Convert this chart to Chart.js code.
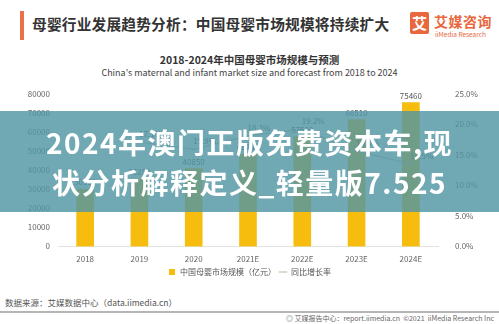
<!DOCTYPE html>
<html>
<head>
<meta charset="utf-8">
<script src="https://cdn.jsdelivr.net/npm/chart.js@4.4.0/dist/chart.umd.min.js"></script>
<style>
  html, body { margin:0; padding:0; background:#fff; }
  body { width:499px; height:324px; position:relative; overflow:hidden;
         font-family:"Noto Sans CJK SC","Noto Sans",sans-serif; }
  .bar-mark { position:absolute; left:20px; top:11px; width:4px; height:29px; background:#e8734a; }
  .head-title { position:absolute; left:32px; top:13px; font-size:14.7px; font-weight:bold; color:#333; letter-spacing:0.2px; }
  .logo-box { position:absolute; left:410px; top:12px; width:19px; height:22px; background:#e8673c; border-radius:2px;
              color:#fff; font-size:15px; font-weight:bold; line-height:22px; text-align:center; }
  .logo-cn { position:absolute; left:434px; top:11px; font-size:14px; font-weight:bold; color:#e8673c; letter-spacing:0.5px; }
  .logo-en { position:absolute; left:435px; top:29px; font-size:6.5px; color:#e8673c; }
  .c-title { position:absolute; left:0; width:499px; top:52px; text-align:center; font-size:10.5px; font-weight:bold; color:#333; }
  .c-sub { position:absolute; left:0; width:499px; top:66px; text-align:center; font-size:9px; color:#444; }
  #wrap { position:absolute; left:0; top:72px; width:499px; height:214px; }
  .source { position:absolute; left:5px; top:296px; font-size:8.5px; color:#555; }
  .rule { position:absolute; left:0; top:311px; width:499px; height:2px; background:#b5b5b5; }
  .foot { position:absolute; right:5px; top:313px; font-size:7px; color:#666; }
  .banner { position:absolute; left:0; top:111px; width:499px; height:101px; background:rgba(80,150,164,0.82);
            color:#fff; font-weight:bold; font-size:28px; line-height:40px; text-align:center; padding-top:11px; box-sizing:border-box;
            letter-spacing:1.5px; }
</style>
</head>
<body>
<div class="bar-mark"></div>
<div class="head-title">母婴行业发展趋势分析：中国母婴市场规模将持续扩大</div>
<div class="logo-box">艾</div>
<div class="logo-cn">艾媒咨询</div>
<div class="logo-en">iiMedia Research</div>
<div class="c-title">2018-2024年中国母婴市场规模与预测</div>
<div class="c-sub">China's maternal and infant market size and forecast from 2018 to 2024</div>
<div id="wrap"><canvas id="chart"></canvas></div>
<div class="source">数据来源：艾媒数据中心（data.iimedia.cn）</div>
<div class="rule"></div>
<div class="foot">◎ 艾媒报告中心：report.iimedia.cn &nbsp;©2021 &nbsp;iiMedia Research Inc</div>
<div class="banner">2024年澳门正版免费资本车,现<br>状分析解释定义_轻量版7.525</div>

<script>
// ── データ ────────────────────────────────────────────
const years = ['2018', '2019', '2020', '2021E', '2022E', '2023E', '2024E'];
const marketSize = [30100, 35250, 40850, 48240, 57520, 66510, 75460];   // 亿元
const growthRate = [null, 17.1, 15.9, 18.1, 19.2, 15.6, 13.5];         // %
const leftTicks = [0, 10000, 20000, 30000, 40000, 50000, 60000, 70000, 80000];
const rightTicks = [0, 5, 10, 15, 20, 25];

const FONT = '"Noto Sans CJK SC","Noto Sans",sans-serif';
const GREY = '#666';

// 数値ラベル（棒の上・折れ線の横）
const valueLabels = {
  id: 'valueLabels',
  afterDatasetsDraw(chart) {
    const ctx = chart.ctx;
    ctx.save();
    ctx.font = '8px ' + FONT;
    ctx.fillStyle = '#555';
    ctx.textAlign = 'center';
    ctx.textBaseline = 'bottom';
    chart.getDatasetMeta(1).data.forEach((bar, i) => {
      ctx.fillText(String(marketSize[i]), bar.x, bar.y - 3);
    });
    chart.getDatasetMeta(0).data.forEach((pt, i) => {
      if (growthRate[i] == null) return;
      ctx.fillText(growthRate[i].toFixed(1) + '%', pt.x + 11, pt.y - 4);
    });
    ctx.restore();
  }
};

// 凡例の高さを詰めて少し上へ
const legendFit = {
  id: 'legendFit',
  beforeLayout(chart) {
    const lg = chart.legend;
    if (!lg || lg._fitPatched) return;
    const fit = lg.fit.bind(lg);
    lg.fit = () => { fit(); lg.height = 14; };
    lg._fitPatched = true;
  },
  afterLayout(chart) {
    const lg = chart.legend;
    if (!lg) return;
    lg.top -= 7;
    lg.bottom -= 7;
  }
};

new Chart(document.getElementById('chart'), {
  data: {
    labels: years,
    datasets: [
      {
        type: 'line',
        label: '同比增长率',
        data: growthRate,
        yAxisID: 'y1',
        borderColor: '#c9bfae',
        borderWidth: 1.2,
        pointRadius: 0,
        pointStyle: 'line',
        tension: 0,
        order: 1,
      },
      {
        type: 'bar',
        label: '中国母婴市场规模（亿元）',
        data: marketSize,
        yAxisID: 'y',
        backgroundColor: '#f6bd0f',
        barThickness: 17,
        pointStyle: 'rect',
        order: 2,
      }
    ]
  },
  options: {
    responsive: true,
    maintainAspectRatio: false,
    animation: false,
    layout: { padding: { top: 0, left: 0, right: 0, bottom: 0 } },
    plugins: {
      legend: {
        position: 'bottom',
        reverse: true,
        labels: {
          usePointStyle: true,
          boxWidth: 14,
          boxHeight: 6,
          padding: 3,
          color: '#555',
          font: { family: FONT, size: 8 }
        }
      },
      tooltip: { enabled: false }
    },
    scales: {
      x: {
        grid: { display: false, drawTicks: false },
        border: { color: '#e2e2e2' },
        ticks: { color: GREY, font: { family: FONT, size: 8 }, padding: 8 }
      },
      y: {
        position: 'left',
        min: 0, max: 80000,
        afterBuildTicks: s => { s.ticks = leftTicks.map(v => ({ value: v })); },
        afterFit: s => { s.width = 58; },
        grid: { display: false, drawTicks: false },
        border: { display: false },
        ticks: { color: GREY, font: { family: FONT, size: 8 }, padding: 8, callback: v => String(v) }
      },
      y1: {
        position: 'right',
        min: 0, max: 25,
        afterBuildTicks: s => { s.ticks = rightTicks.map(v => ({ value: v })); },
        afterFit: s => { s.width = 61; },
        grid: { display: false, drawTicks: false },
        border: { display: false },
        ticks: { color: GREY, font: { family: FONT, size: 8 }, padding: 17, callback: v => v.toFixed(1) + '%' }
      }
    }
  },
  plugins: [valueLabels, legendFit]
});
</script>
</body>
</html>
